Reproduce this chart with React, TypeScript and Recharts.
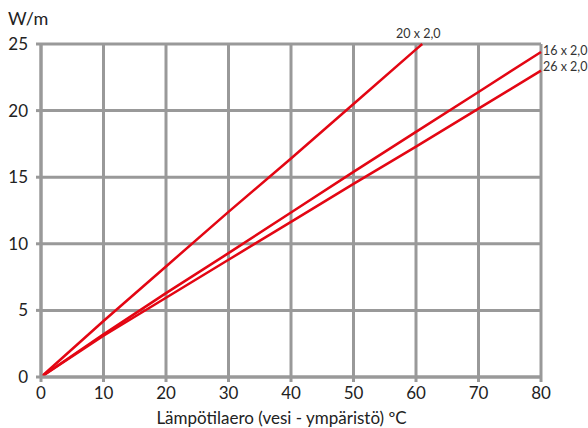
import React from 'react';
import { LineChart, Line, XAxis, YAxis, CartesianGrid, Label } from 'recharts';

const xTicks = [0, 10, 20, 30, 40, 50, 60, 70, 80];
const yTicks = [0, 5, 10, 15, 20, 25];

const dt20 = [0, 10, 20, 30, 40, 50, 60, 61];
const q20 = [0, 4.2, 8.3, 12.4, 16.4, 20.5, 24.6, 25];

const dt16 = [0, 10, 20, 30, 40, 50, 60, 70, 80];
const q16 = [0, 3.2, 6.3, 9.3, 12.35, 15.4, 18.4, 21.4, 24.4];

const dt26 = [0, 10, 20, 30, 40, 50, 60, 70, 80];
const q26 = [0, 3.1, 5.95, 8.8, 11.65, 14.5, 17.3, 20.15, 23.0];

const seriesNames = ['20 x 2,0', '16 x 2,0', '26 x 2,0'];
const xTitle = 'Lämpötilaero (vesi - ympäristö) ºC';
const yTitle = 'W/m';

const zip = (xs: number[], ys: number[]) => xs.map((x, i) => ({ x, y: ys[i] }));
const data20 = zip(dt20, q20);
const data16 = zip(dt16, q16);
const data26 = zip(dt26, q26);

const FONT = 'Lato, sans-serif';
const RED = '#e30613';
const GRID = '#999999';

const endLabel = (name: string, count: number, mode: 'top' | 'right', dy: number) => (props: any) => {
  const { x, y, index } = props;
  if (index !== count - 1) return null;
  if (mode === 'top') {
    return (
      <text x={x - 4} y={y + dy} textAnchor="middle" fontSize={12.5} fontFamily={FONT} fill="#333">
        {name}
      </text>
    );
  }
  return (
    <text x={x + 2} y={y + dy} textAnchor="start" fontSize={12.5} fontFamily={FONT} fill="#333">
      {name}
    </text>
  );
};

export default function App() {
  return (
    <div style={{ position: 'absolute', left: 0, top: 0, background: '#fff' }}>
      <LineChart width={588} height={428} margin={{ top: 44, right: 47, left: 0, bottom: 0 }}>
        <CartesianGrid stroke={GRID} strokeWidth={3} />
        <XAxis
          type="number"
          dataKey="x"
          domain={[0, 80]}
          ticks={xTicks}
          allowDuplicatedCategory={false}
          height={51}
          tickSize={5}
          tickMargin={5}
          axisLine={{ stroke: GRID, strokeWidth: 3 }}
          tickLine={{ stroke: GRID, strokeWidth: 3 }}
          tick={{ fill: '#222', fontSize: 17, fontFamily: FONT }}
        >
          <Label
            content={() => (
              <text x={281.5} y={424} textAnchor="middle" fontSize={17} fontFamily={FONT} fill="#222">
                {xTitle}
              </text>
            )}
          />
        </XAxis>
        <YAxis
          type="number"
          dataKey="y"
          domain={[0, 25]}
          ticks={yTicks}
          width={41}
          tickSize={5}
          tickMargin={8}
          axisLine={{ stroke: GRID, strokeWidth: 3 }}
          tickLine={{ stroke: GRID, strokeWidth: 3 }}
          tick={{ fill: '#222', fontSize: 17, fontFamily: FONT }}
        >
          <Label
            content={() => (
              <text x={8} y={25} textAnchor="start" fontSize={18} fontFamily={FONT} fill="#222">
                {yTitle}
              </text>
            )}
          />
        </YAxis>
        <Line data={data20} dataKey="y" type="linear" stroke={RED} strokeWidth={2.5} dot={false} isAnimationActive={false} label={endLabel(seriesNames[0], data20.length, 'top', -6)} />
        <Line data={data16} dataKey="y" type="linear" stroke={RED} strokeWidth={2.5} dot={false} isAnimationActive={false} label={endLabel(seriesNames[1], data16.length, 'right', 3)} />
        <Line data={data26} dataKey="y" type="linear" stroke={RED} strokeWidth={2.5} dot={false} isAnimationActive={false} label={endLabel(seriesNames[2], data26.length, 'right', 0)} />
      </LineChart>
    </div>
  );
}
